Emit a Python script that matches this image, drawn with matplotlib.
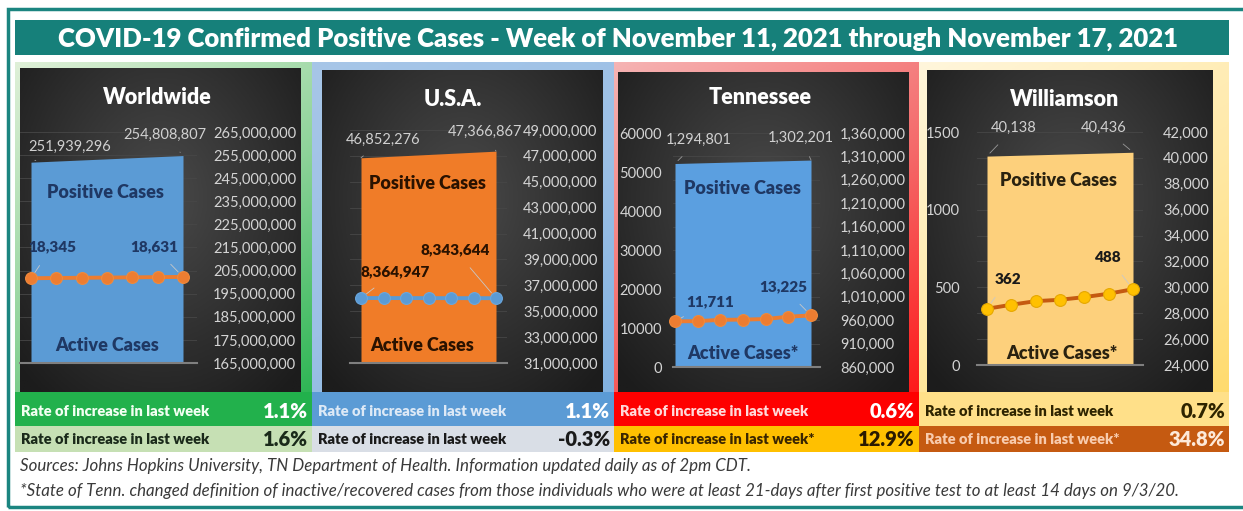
import numpy as np
import matplotlib
matplotlib.use('Agg')
import matplotlib.pyplot as plt
from matplotlib.patches import Rectangle
from matplotlib.colors import LinearSegmentedColormap

plt.rcParams['font.family'] = ['Lato', 'DejaVu Sans']

# data
days = ['11/11', '11/12', '11/13', '11/14', '11/15', '11/16', '11/17']
regions = ['Worldwide', 'U.S.A.', 'Tennessee', 'Williamson']
positive_first = [251939296, 46852276, 1294801, 40138]
positive_last = [254808807, 47366867, 1302201, 40436]
active_ww = [18345, 18400, 18450, 18490, 18540, 18590, 18631]
active_usa = [8364947, 8361000, 8357000, 8354000, 8350000, 8347000, 8343644]
active_tn = [11711, 11750, 12100, 12150, 12300, 12900, 13225]
active_wc = [362, 388, 411, 420, 437, 459, 488]
active_labels = [['18,345', '18,631'], ['8,364,947', '8,343,644'],
                 ['11,711', '13,225'], ['362', '488']]
rate_positive = ['1.1%', '1.1%', '0.6%', '0.7%']
rate_active = ['1.6%', '-0.3%', '12.9%', '34.8%']
active_titles = ['Active Cases', 'Active Cases', 'Active Cases*', 'Active Cases*']
rate_active_text = ['Rate of increase in last week', 'Rate of increase in last week',
                    'Rate of increase in last week*', 'Rate of increase in last week*']
active = [active_ww, active_usa, active_tn, active_wc]

W, H = 1243, 511
fig = plt.figure(figsize=(W / 100, H / 100), dpi=100)
fig.patch.set_facecolor('white')
BOLD = 'heavy'


def px_axes(x0, y0, x1, y1, z):
    return fig.add_axes([x0 / W, 1 - y1 / H, (x1 - x0) / W, (y1 - y0) / H], zorder=z)


def gradient(x0, y0, x1, y1, colors, mode, z):
    ax = px_axes(x0, y0, x1, y1, z)
    ax.axis('off')
    xx, yy = np.meshgrid(np.linspace(0, 1, 200), np.linspace(0, 1, 200))
    if mode == 'diag':
        t = 0.35 * xx + 0.65 * yy
    elif mode == 'radial':
        t = np.clip(np.sqrt((xx - 0.5) ** 2 + ((yy - 0.4) * 0.9) ** 2) / 0.7, 0, 1)
    else:
        t = yy
    cmap = LinearSegmentedColormap.from_list('g', colors)
    ax.imshow(t, cmap=cmap, aspect='auto', extent=[0, 1, 0, 1], vmin=0, vmax=1)
    return ax


def rect(x0, y0, x1, y1, color, z=1):
    fig.add_artist(Rectangle((x0 / W, 1 - y1 / H), (x1 - x0) / W, (y1 - y0) / H,
                             transform=fig.transFigure, facecolor=color,
                             edgecolor='none', zorder=z))


def ftext(x, y, s, **kw):
    kw.setdefault('zorder', 20)
    fig.text(x / W, 1 - y / H, s, **kw)


# outer frame and title bar
fig.add_artist(Rectangle((7.5 / W, 1 - 507 / H), 1260 / W, 498 / H, transform=fig.transFigure,
                         facecolor='none', edgecolor='#1b8580', lw=2.5, zorder=1))
rect(15, 20, 1229, 55, '#16807a', z=2)
ftext(618, 39, 'COVID-19 Confirmed Positive Cases - Week of November 11, 2021 through November 17, 2021',
      color='white', fontsize=18.5, fontweight=BOLD, ha='center', va='center')

# panel layout / styles
panels = [
    dict(frame=(15, 62, 312, 425), frame_cols=['#dff0d8', '#8fd39a', '#22b24c'],
         dark=(20, 68, 301, 392), title=(157, 97),
         x0=31, x6=183, axl=20, axr=197, top=132, bot=363,
         rlim=(165e6, 265e6), rstep=10e6, llim=(0, 50000), lstep=None, rpad=16, lpad=0,
         area='#5b9bd5', line='#ed7d31', mk='#ed7d31', mk_edge='#f08a3c',
         pos_lbl=[(70, 147), (165, 135)], act_lbl=[(52, 247), (154, 247)],
         act_col='#1f3864', pos_txt=(105, 192), act_txt=(107, 345), txt_col='#1f3864',
         row1='#22b14c', row1_txt='#f2fff2', row1_val='white',
         row2='#c6e0b4', row2_txt='#1a2a1a', row2_val='#1a2a1a'),
    dict(frame=(312, 62, 614, 425), frame_cols=['#a7c6e8', '#9cc0e6', '#7fb0e0'],
         dark=(322, 70, 603, 392), title=(453, 100),
         x0=361, x6=496, axl=350, axr=507, top=130, bot=363,
         rlim=(31e6, 49e6), rstep=2e6, llim=(0, 30e6), lstep=None, rpad=16, lpad=0,
         area='#f07c28', line='#5b9bd5', mk='#5b9bd5', mk_edge='#6aa7de',
         pos_lbl=[(383, 140), (485, 132)], act_lbl=[(395, 272), (455, 250)],
         act_col='#2a1200', pos_txt=(427, 183), act_txt=(422, 345), txt_col='#2a1200',
         row1='#5b9bd5', row1_txt='#dde9f6', row1_val='white',
         row2='#d9dee6', row2_txt='#1a1a1a', row2_val='#1a1a1a'),
    dict(frame=(614, 62, 919, 425), frame_cols=['#f6b4b4', '#f46a6a', '#ff1010'],
         dark=(618, 72, 909, 392), title=(760, 98),
         x0=675, x6=811, axl=673, axr=820, top=133, bot=367,
         rlim=(860000, 1360000), rstep=50000, llim=(0, 60000), lstep=10000, rpad=20, lpad=11,
         area='#5b9fe0', line='#ed7d31', mk='#ed7d31', mk_edge='#f08a3c',
         pos_lbl=[(699, 140), (801, 138)], act_lbl=[(710, 302), (783, 287)],
         act_col='#1f3864', pos_txt=(742, 188), act_txt=(743, 353), txt_col='#1f3864',
         row1='#fe0000', row1_txt='#ffd9d9', row1_val='white',
         row2='#ffc000', row2_txt='#3a2600', row2_val='#2a1a00'),
    dict(frame=(919, 62, 1229, 425), frame_cols=['#fff6dc', '#ffe9a8', '#ffd966'],
         dark=(927, 70, 1213, 392), title=(1065, 99),
         x0=987, x6=1133, axl=977, axr=1143, top=132, bot=365,
         rlim=(24000, 42000), rstep=2000, llim=(0, 1500), lstep=500, rpad=20, lpad=17,
         area='#fdd07c', line='#c55a11', mk='#ffc000', mk_edge='#e6a800',
         pos_lbl=[(1014, 128), (1104, 128)], act_lbl=[(1008, 279), (1108, 257)],
         act_col='#1a1a1a', pos_txt=(1058, 181), act_txt=(1062, 353), txt_col='#2a2210',
         row1='#ffe089', row1_txt='#2e2400', row1_val='#2e2400',
         row2='#c55a11', row2_txt='#f8cbad', row2_val='#fde9d9'),
]

x = np.arange(len(days))
grid_col = '#474747'
tick_col = '#d4d4d4'

for i, p in enumerate(panels):
    fx0, fy0, fx1, fy1 = p['frame']
    gradient(fx0, fy0, fx1, fy1, p['frame_cols'], 'diag', 0)
    dx0, dy0, dx1, dy1 = p['dark']
    gradient(dx0, dy0, dx1, dy1, ['#4a4a4a', '#333333', '#1c1c1c'], 'radial', 1)

    u = (p['x6'] - p['x0']) / 6.0
    xlim = ((p['axl'] - p['x0']) / u, (p['axr'] - p['x0']) / u)
    ax = px_axes(p['axl'], p['top'], p['axr'], p['bot'], 3)
    ax2 = ax.twinx()
    ax.set_zorder(4)
    ax2.set_zorder(3)
    for a in (ax, ax2):
        a.patch.set_visible(False)
        for s in a.spines.values():
            s.set_visible(False)
        a.set_xlim(*xlim)
    ax.spines['bottom'].set_visible(True)
    ax.spines['bottom'].set_color('#7f7f7f')
    ax.spines['bottom'].set_linewidth(1.5)
    ax.set_xticks([])

    # positive cases area (right axis)
    ax2.set_ylim(*p['rlim'])
    rt = np.arange(p['rlim'][0], p['rlim'][1] + 1, p['rstep'])
    ax2.set_yticks(rt)
    ax2.set_yticklabels([f'{int(v):,}' for v in rt])
    ax2.tick_params(axis='y', length=0, pad=p['rpad'] * 0.72, labelsize=10.5, labelcolor=tick_col)
    ax2.yaxis.grid(True, color=grid_col, lw=0.6)
    ax2.set_axisbelow(True)
    ends = [x[0], x[-1]]
    ax2.fill_between(ends, [p['rlim'][0]] * 2, [positive_first[i], positive_last[i]],
                     color=p['area'], lw=0, zorder=2)

    # active cases line (left axis)
    ax.set_ylim(*p['llim'])
    if p['lstep']:
        lt = np.arange(p['llim'][0], p['llim'][1] + 1, p['lstep'])
        ax.set_yticks(lt)
        ax.set_yticklabels([f'{int(v)}' for v in lt])
        ax.tick_params(axis='y', length=0, pad=p['lpad'] * 0.72, labelsize=10.5, labelcolor=tick_col)
    else:
        ax.set_yticks([])
    ax.plot(x, active[i], color=p['line'], lw=2.8, marker='o', markersize=8.5,
            markerfacecolor=p['mk'], markeredgecolor=p['mk_edge'], markeredgewidth=0.8,
            zorder=5, clip_on=False)

    # data labels with faint leader lines
    pos_vals = [positive_first[i], positive_last[i]]
    for k, (lx, ly) in enumerate(p['pos_lbl']):
        ax2.annotate(f'{pos_vals[k]:,}', xy=(ends[k], pos_vals[k]), xycoords='data',
                     xytext=(lx / W, 1 - ly / H), textcoords='figure fraction',
                     ha='center', va='center', fontsize=10.5, color='#d0d0d0', zorder=6,
                     arrowprops=dict(arrowstyle='-', color='#9a9a9a', lw=0.6, shrinkA=7, shrinkB=3))
    act_pts = [(x[0], active[i][0]), (x[-1], active[i][-1])]
    for k, (lx, ly) in enumerate(p['act_lbl']):
        ax.annotate(active_labels[i][k], xy=act_pts[k], xycoords='data',
                    xytext=(lx / W, 1 - ly / H), textcoords='figure fraction',
                    ha='center', va='center', fontsize=11, fontweight=BOLD,
                    color=p['act_col'], zorder=6,
                    arrowprops=dict(arrowstyle='-', color='#c8c8c8', lw=0.6, shrinkA=8, shrinkB=5))

    ftext(*p['title'], regions[i], color='white', fontsize=15.5, fontweight=BOLD,
          ha='center', va='center')
    ftext(*p['pos_txt'], 'Positive Cases', color=p['txt_col'], fontsize=13, fontweight=BOLD,
          ha='center', va='center')
    ftext(*p['act_txt'], active_titles[i], color=p['txt_col'], fontsize=13, fontweight=BOLD,
          ha='center', va='center')

    # rate rows
    rect(fx0, 392, fx1, 426, p['row1'], z=2)
    rect(fx0, 426, fx1, 452, p['row2'], z=2)
    ftext(fx0 + 6, 412, 'Rate of increase in last week', color=p['row1_txt'], fontsize=10.5,
          fontweight=BOLD, ha='left', va='center')
    ftext(fx1 - 4, 411, rate_positive[i], color=p['row1_val'], fontsize=14.5,
          fontweight=BOLD, ha='right', va='center')
    ftext(fx0 + 6, 440, rate_active_text[i], color=p['row2_txt'], fontsize=10.5,
          fontweight=BOLD, ha='left', va='center')
    ftext(fx1 - 4, 439, rate_active[i], color=p['row2_val'], fontsize=14.5,
          fontweight=BOLD, ha='right', va='center')

ftext(20, 466, 'Sources: Johns Hopkins University, TN Department of Health. Information updated daily as of 2pm CDT.',
      color='#3a3a3a', fontsize=12.2, style='italic', ha='left', va='center')
ftext(20, 491, '*State of Tenn. changed definition of inactive/recovered cases from those individuals who were '
      'at least 21-days after first positive test to at least 14 days on 9/3/20.',
      color='#3a3a3a', fontsize=12.2, style='italic', ha='left', va='center')

fig.savefig('out.png', dpi=100)
